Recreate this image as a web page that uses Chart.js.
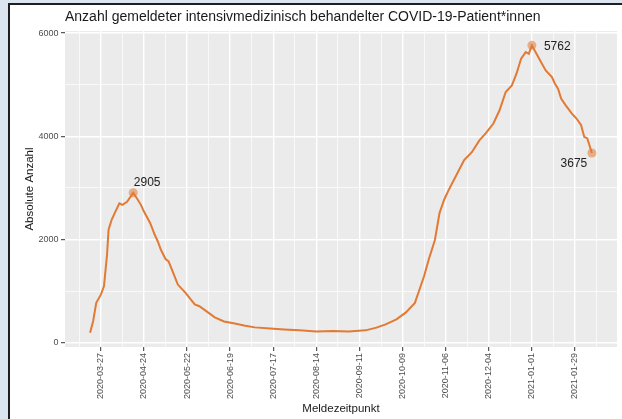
<!DOCTYPE html>
<html lang="de">
<head>
<meta charset="utf-8">
<title>Intensivpatienten COVID-19</title>
<script src="https://cdn.jsdelivr.net/npm/chart.js@4.4.1/dist/chart.umd.min.js"></script>
<style>
  html, body { margin: 0; padding: 0; }
  body { width: 622px; height: 419px; background: #dbe5f0; position: relative; overflow: hidden; }
  #rahmen { position: absolute; left: 8px; top: 3px; right: -10px; bottom: -10px; background: #fff;
            border-left: 2px solid #1e1e1e; border-top: 2px solid #1e1e1e; }
  #graf { position: absolute; left: 0; top: 0; }
</style>
</head>
<body>
<div id="rahmen"></div>
<canvas id="graf" width="622" height="419"></canvas>
<script>
// Meldedaten (DIVI-Intensivregister)
const meldedatum = [
  '2020-03-20', '2020-03-22', '2020-03-24', '2020-03-27', '2020-03-29', '2020-03-31',
  '2020-04-01', '2020-04-03', '2020-04-05', '2020-04-08', '2020-04-10', '2020-04-13',
  '2020-04-16', '2020-04-17', '2020-04-20', '2020-04-22', '2020-04-24', '2020-04-28',
  '2020-05-01', '2020-05-03', '2020-05-05', '2020-05-08', '2020-05-10', '2020-05-13',
  '2020-05-16', '2020-05-21', '2020-05-27', '2020-05-30', '2020-06-03', '2020-06-09',
  '2020-06-15', '2020-06-22', '2020-06-28', '2020-07-05', '2020-07-15', '2020-07-24',
  '2020-08-03', '2020-08-14', '2020-08-25', '2020-09-04', '2020-09-15', '2020-09-22',
  '2020-09-28', '2020-10-05', '2020-10-11', '2020-10-17', '2020-10-20', '2020-10-23',
  '2020-10-26', '2020-10-30', '2020-11-02', '2020-11-05', '2020-11-08', '2020-11-13',
  '2020-11-18', '2020-11-23', '2020-11-28', '2020-12-02', '2020-12-07', '2020-12-11',
  '2020-12-15', '2020-12-19', '2020-12-22', '2020-12-25', '2020-12-28', '2020-12-30',
  '2021-01-01', '2021-01-04', '2021-01-07', '2021-01-10', '2021-01-14', '2021-01-16',
  '2021-01-18', '2021-01-20', '2021-01-23', '2021-01-27', '2021-01-30', '2021-02-02',
  '2021-02-04', '2021-02-06', '2021-02-09'
];
const intensivpatienten = [
  193, 420, 770, 930, 1090, 1700,
  2190, 2380, 2510, 2700, 2670, 2730,
  2860, 2905, 2770, 2670, 2540, 2320,
  2090, 1960, 1800, 1620, 1575, 1350,
  1125, 965, 740, 705, 620, 490,
  410, 370, 330, 295, 275, 255,
  237, 215, 224, 215, 237, 290,
  353, 450, 580, 770, 1030, 1290,
  1610, 1990, 2510, 2770, 2960, 3250,
  3540, 3690, 3925, 4054, 4247, 4504,
  4857, 4986, 5212, 5502, 5630, 5598,
  5762, 5598, 5436, 5276, 5147, 5019,
  4923, 4730, 4600, 4440, 4344, 4214,
  3989, 3958, 3675
];
// Achsenbeschriftung alle 4 Wochen ab 27.03.2020
const xTicks = ['2020-03-27', '2020-04-24', '2020-05-22', '2020-06-19', '2020-07-17', '2020-08-14',
  '2020-09-11', '2020-10-09', '2020-11-06', '2020-12-04', '2021-01-01', '2021-01-29'];
const yTicks = [0, 2000, 4000, 6000];

const TAG = 86400000;
const start = Date.parse(meldedatum[0]);
const tag = d => Math.round((Date.parse(d) - start) / TAG);
const datum = t => new Date(start + t * TAG).toISOString().slice(0, 10);

const punkte = meldedatum.map((d, i) => ({ x: tag(d), y: intensivpatienten[i] }));

// hervorgehobene Punkte: Gipfel der ersten Welle, Maximum, letzter Wert
const erste = punkte.filter(p => p.x < tag('2020-07-01'));
const gipfel1 = erste.reduce((a, b) => (b.y > a.y ? b : a));
const gipfel2 = punkte.reduce((a, b) => (b.y > a.y ? b : a));
const letzter = punkte[punkte.length - 1];
const markiert = [gipfel1, gipfel2, letzter];
const versatz = [[14, -10], [12, 1], [-18, 11]];
const ausrichtung = ['center', 'left', 'center'];

// ggplot-artige Ausdehnung um 5 %
const xs = punkte.map(p => p.x), ys = punkte.map(p => p.y);
const xSpanne = Math.max(...xs) - Math.min(...xs);
const ySpanne = Math.max(...ys) - Math.min(...ys);

// Haupt- und Nebenlinien
const xHaupt = xTicks.map(tag);
const xAlle = [];
for (let t = xHaupt[0] - 14; t <= xHaupt[xHaupt.length - 1] + 14; t += 14) xAlle.push(t);
const yAlle = [];
for (let v = 0; v <= yTicks[yTicks.length - 1]; v += 1000) yAlle.push(v);

const istXHaupt = v => xHaupt.includes(v);
const istYHaupt = v => yTicks.includes(v);

const orange = '#e17a34';
const schrift = '"Liberation Sans", Arial, sans-serif';

const hintergrund = {
  id: 'hintergrund',
  beforeDraw(chart) {
    const { ctx, chartArea: a } = chart;
    ctx.save();
    ctx.fillStyle = '#ebebeb';
    ctx.fillRect(a.left, a.top, a.right - a.left, a.bottom - a.top);
    ctx.restore();
  },
  afterDraw(chart) {
    const { ctx, chartArea: a, scales } = chart;
    ctx.save();
    ctx.fillStyle = '#1a1a1a';
    ctx.font = '14px ' + schrift;
    ctx.textBaseline = 'middle';
    ctx.fillText('Anzahl gemeldeter intensivmedizinisch behandelter COVID-19-Patient*innen', a.left, 17);

    ctx.font = '12px ' + schrift;
    ctx.fillStyle = '#222';
    markiert.forEach((p, i) => {
      ctx.textAlign = ausrichtung[i];
      const px = scales.x.getPixelForValue(p.x) + versatz[i][0];
      const py = scales.y.getPixelForValue(p.y) + versatz[i][1];
      ctx.fillText(String(p.y), px, py);
    });
    ctx.restore();
  }
};

new Chart(document.getElementById('graf'), {
  type: 'line',
  data: {
    datasets: [{
      data: punkte,
      borderColor: orange,
      borderWidth: 2,
      pointRadius: 0,
      tension: 0,
      order: 2
    }, {
      data: markiert,
      showLine: false,
      pointRadius: 4.5,
      pointBackgroundColor: 'rgba(225,122,52,0.55)',
      pointBorderWidth: 0,
      order: 1
    }]
  },
  options: {
    responsive: false,
    devicePixelRatio: 1,
    animation: false,
    layout: { padding: { left: 19, right: 5, top: 31, bottom: 0 } },
    plugins: { legend: { display: false }, tooltip: { enabled: false } },
    scales: {
      x: {
        type: 'linear',
        min: Math.min(...xs) - 0.05 * xSpanne,
        max: Math.max(...xs) + 0.05 * xSpanne,
        afterBuildTicks: s => { s.ticks = xAlle.map(v => ({ value: v })); },
        afterFit: s => { s.height = 72; },
        border: { display: false },
        grid: {
          color: '#fff',
          lineWidth: c => (istXHaupt(c.tick.value) ? 1.4 : 0.7),
          tickColor: c => (istXHaupt(c.tick.value) ? '#333' : 'rgba(0,0,0,0)'),
          tickLength: 4,
          tickWidth: 1
        },
        ticks: {
          autoSkip: false,
          minRotation: 90,
          maxRotation: 90,
          padding: 2,
          color: '#4d4d4d',
          font: { family: schrift, size: 9 },
          callback: v => (istXHaupt(v) ? datum(v) : '')
        },
        title: {
          display: true,
          text: 'Meldezeitpunkt',
          color: '#1a1a1a',
          font: { family: schrift, size: 11.5 },
          padding: { top: 0, bottom: 3 }
        }
      },
      y: {
        min: Math.min(...ys) - 0.05 * ySpanne,
        max: Math.max(...ys) + 0.05 * ySpanne,
        afterBuildTicks: s => { s.ticks = yAlle.map(v => ({ value: v })); },
        afterFit: s => { s.width = 46; },
        border: { display: false },
        grid: {
          color: '#fff',
          lineWidth: c => (istYHaupt(c.tick.value) ? 1.4 : 0.7),
          tickColor: c => (istYHaupt(c.tick.value) ? '#333' : 'rgba(0,0,0,0)'),
          tickLength: 4,
          tickWidth: 1
        },
        ticks: {
          padding: 2.5,
          color: '#4d4d4d',
          font: { family: schrift, size: 9 },
          callback: v => (istYHaupt(v) ? String(v) : '')
        },
        title: {
          display: true,
          text: 'Absolute Anzahl',
          color: '#1a1a1a',
          font: { family: schrift, size: 11.5 },
          padding: { top: 3.5, bottom: 4 }
        }
      }
    }
  },
  plugins: [hintergrund]
});
</script>
</body>
</html>
